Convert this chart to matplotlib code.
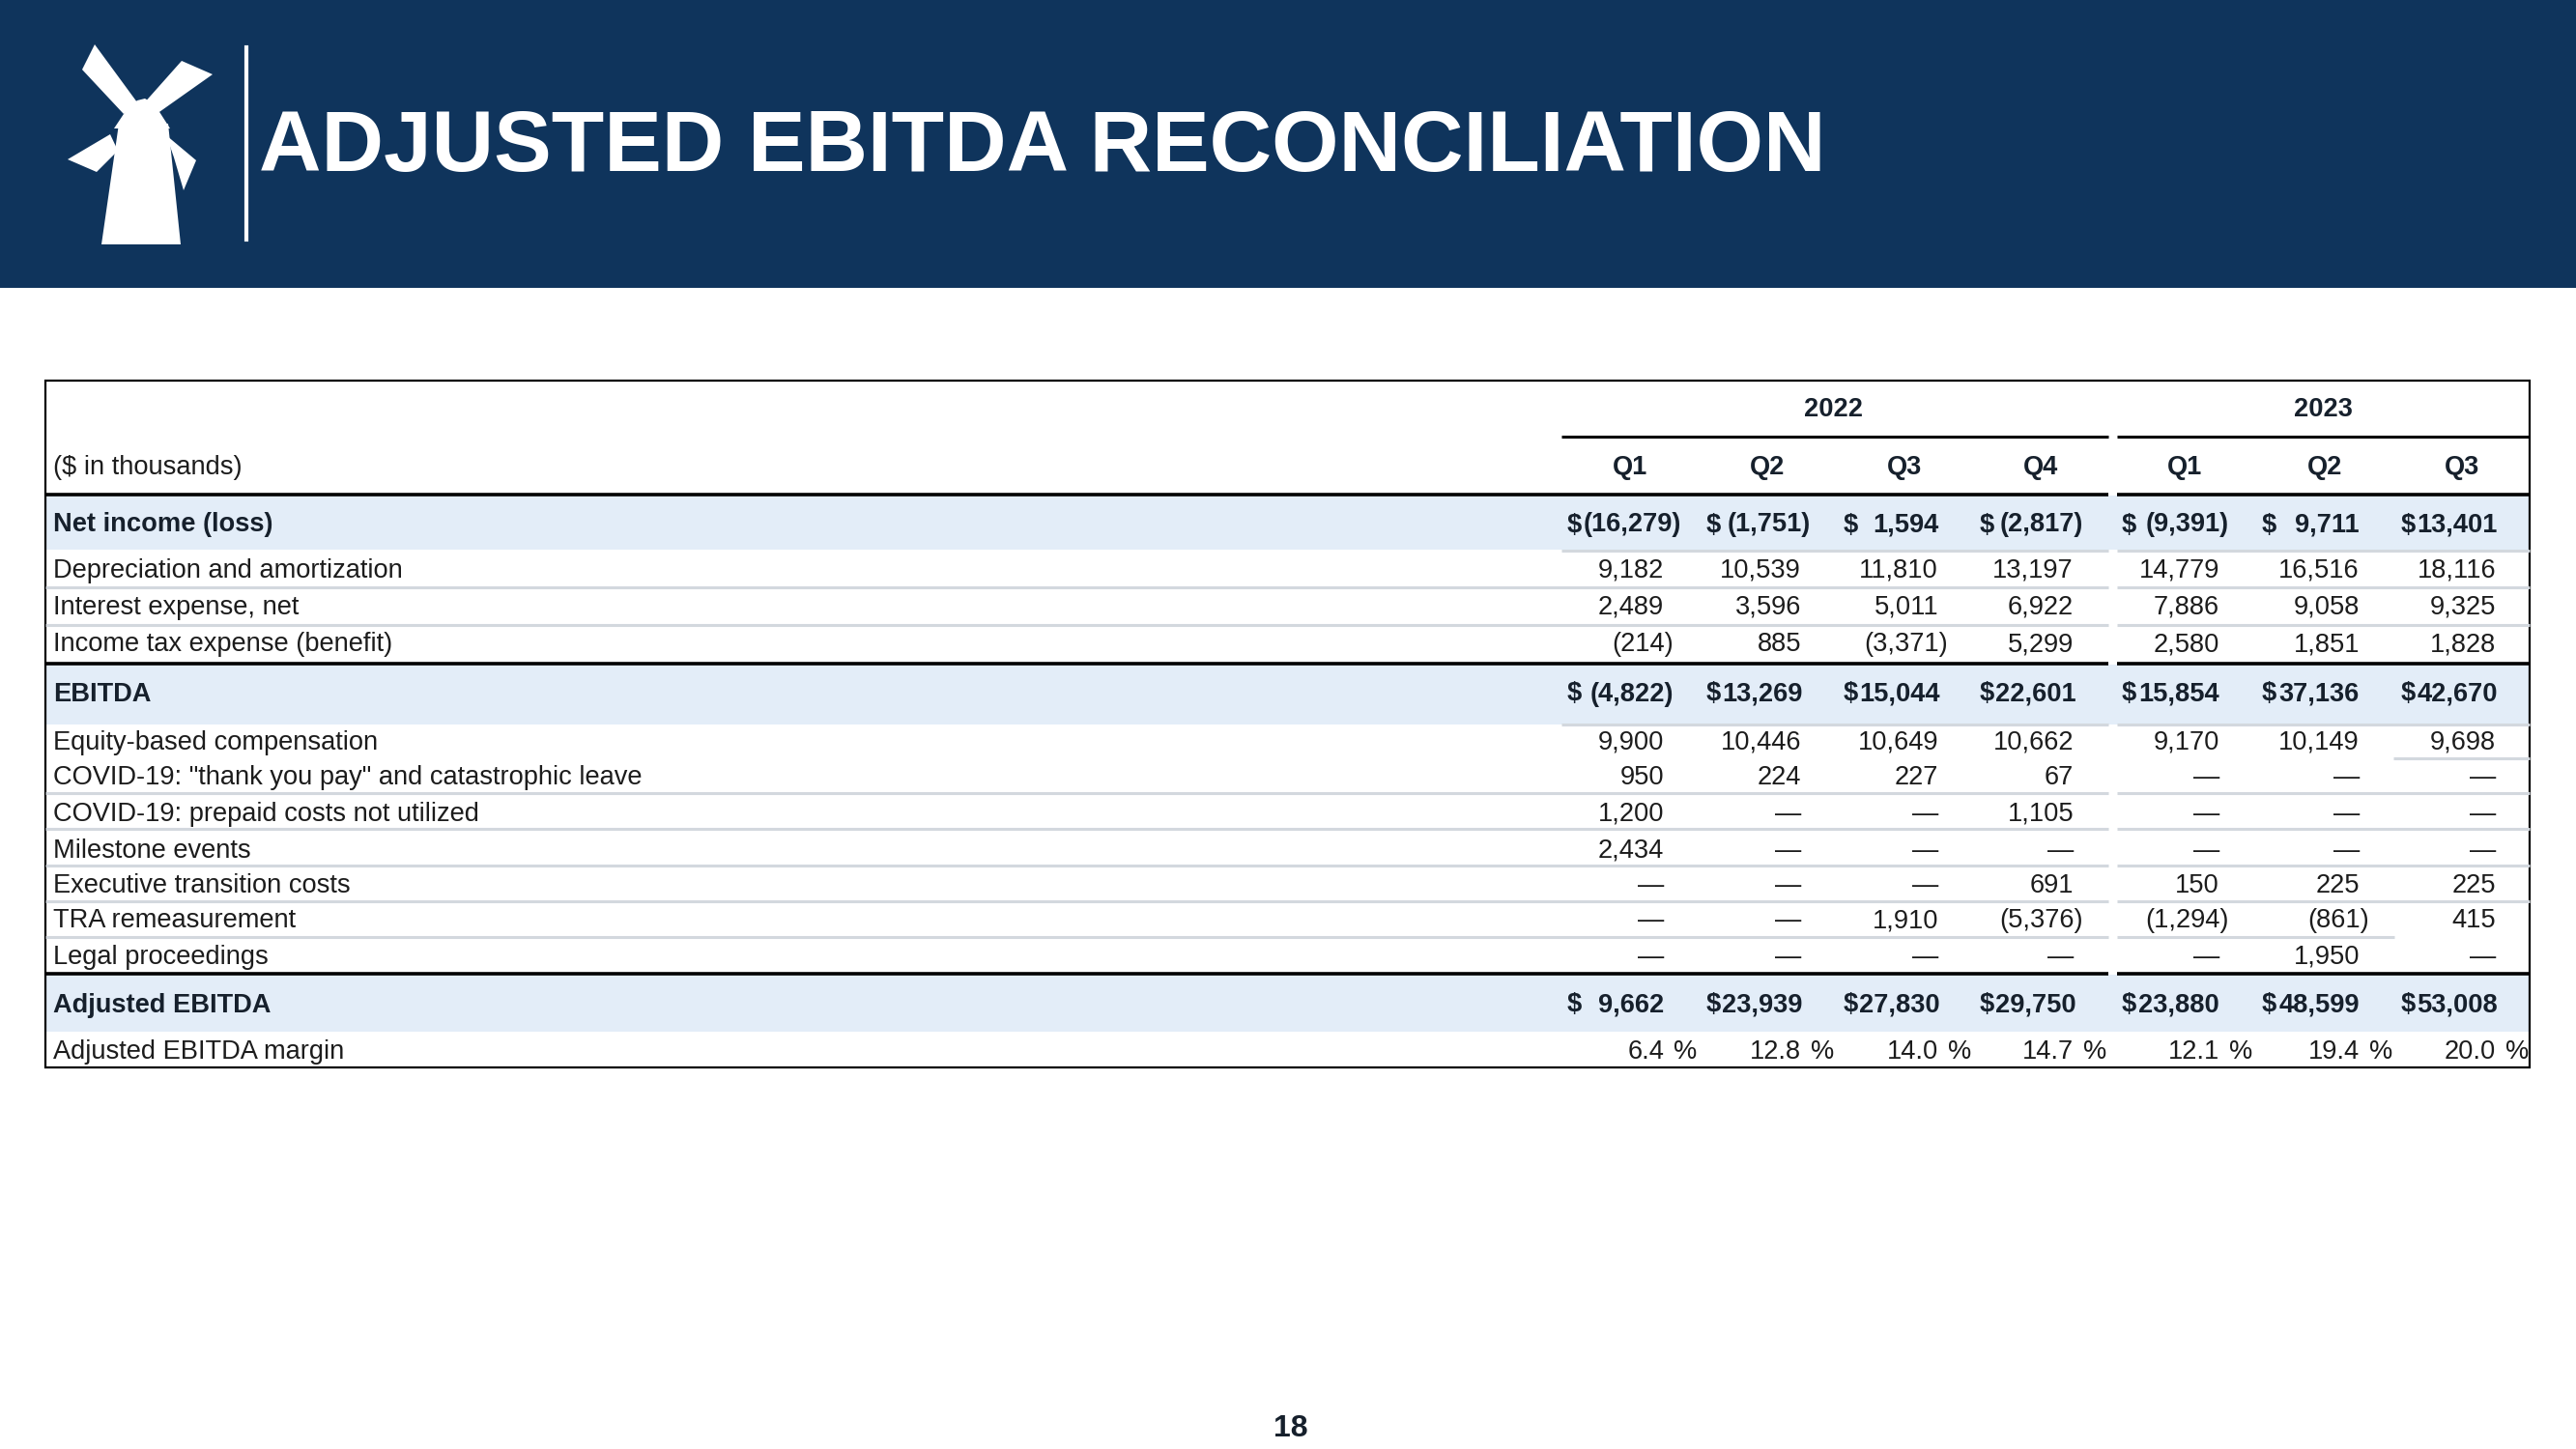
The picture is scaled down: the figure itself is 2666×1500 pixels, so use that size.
import matplotlib
matplotlib.use("Agg")
import matplotlib.pyplot as plt
from matplotlib.patches import Polygon, Rectangle

plt.rcParams['font.family'] = ['Liberation Sans', 'DejaVu Sans']

# ---- data ----
title = "ADJUSTED EBITDA RECONCILIATION"
years = ["2022", "2023"]
quarters = ["Q1", "Q2", "Q3", "Q4", "Q1", "Q2", "Q3"]
unit_label = "($ in thousands)"
page_no = "18"

net_income = [-16279, -1751, 1594, -2817, -9391, 9711, 13401]
depreciation = [9182, 10539, 11810, 13197, 14779, 16516, 18116]
interest = [2489, 3596, 5011, 6922, 7886, 9058, 9325]
income_tax = [-214, 885, -3371, 5299, 2580, 1851, 1828]
ebitda = [-4822, 13269, 15044, 22601, 15854, 37136, 42670]
equity_comp = [9900, 10446, 10649, 10662, 9170, 10149, 9698]
covid_pay = [950, 224, 227, 67, None, None, None]
covid_prepaid = [1200, None, None, 1105, None, None, None]
milestone = [2434, None, None, None, None, None, None]
exec_transition = [None, None, None, 691, 150, 225, 225]
tra = [None, None, 1910, -5376, -1294, -861, 415]
legal = [None, None, None, None, None, 1950, None]
adj_ebitda = [9662, 23939, 27830, 29750, 23880, 48599, 53008]
adj_margin = [6.4, 12.8, 14.0, 14.7, 12.1, 19.4, 20.0]

rows = [
    ("Net income (loss)", net_income, True),
    ("Depreciation and amortization", depreciation, False),
    ("Interest expense, net", interest, False),
    ("Income tax expense (benefit)", income_tax, False),
    ("EBITDA", ebitda, True),
    ("Equity-based compensation", equity_comp, False),
    ('COVID-19: "thank you pay" and catastrophic leave', covid_pay, False),
    ("COVID-19: prepaid costs not utilized", covid_prepaid, False),
    ("Milestone events", milestone, False),
    ("Executive transition costs", exec_transition, False),
    ("TRA remeasurement", tra, False),
    ("Legal proceedings", legal, False),
    ("Adjusted EBITDA", adj_ebitda, True),
]

# ---- layout (pixels) ----
W, H = 2666, 1500
navy = "#0f345c"
shade = "#e3edf8"
grid = "#d3d8de"
txt = "#1c1c1c"
btxt = "#16202c"
fs = 19.6

row_y = [541, 588, 626, 665, 716, 766, 803, 840, 878, 915, 951, 988, 1038]
margin_y = 1086
num_right = [1722, 1864, 2006, 2146, 2297, 2442, 2583]
dollar_x = [1622, 1766, 1908, 2049, 2196, 2341, 2485]
q_center = [1687, 1829, 1971, 2112, 2261, 2406, 2548]
year_center = [1898, 2404]
L, R, T, B = 47, 2618, 394, 1105
g1 = (1616, 2182)
g2 = (2191, 2618)

fig = plt.figure(figsize=(W / 100, H / 100), dpi=100)
ax = fig.add_axes([0, 0, 1, 1])
ax.set_xlim(0, W)
ax.set_ylim(H, 0)
ax.axis("off")
renderer = fig.canvas.get_renderer()

# header band
ax.add_patch(Rectangle((0, 0), W, 298, color=navy, lw=0))

# windmill logo
white = "white"
shapes = [
    [(85, 72), (98, 46), (142, 106), (128, 118)],
    [(188, 63), (220, 77), (162, 118), (148, 108)],
    [(70, 165), (114, 139), (122, 156), (100, 178)],
    [(172, 140), (203, 166), (190, 197), (180, 163)],
    [(118, 133), (132, 112), (142, 104), (150, 102), (160, 108), (176, 133)],
    [(123, 128), (174, 128), (187, 253), (105, 253)],
]
for s in shapes:
    ax.add_patch(Polygon(s, closed=True, color=white, lw=0))
ax.plot([255, 255], [49, 248], color=white, lw=3)

ax.text(268, 177, title, color="white", fontsize=64.3, fontweight="bold",
        ha="left", va="baseline")

# shaded rows
shade_spans = {0: (513, 569), 4: (688, 750), 12: (1009, 1068)}
for i, (top, bot) in shade_spans.items():
    ax.add_patch(Rectangle((L, top), R - L, bot - top, color=shade, lw=0))


def hline(y, x0, x1, color=grid, lw=2.2):
    ax.plot([x0, x1], [y, y], color=color, lw=lw, solid_capstyle="butt")


# year underline
hline(452, *g1, color="black", lw=2.2)
hline(452, *g2, color="black", lw=2.2)
# thick rules
for y in (512, 687, 1008):
    hline(y, L, g1[1], color="black", lw=2.6)
    hline(y, *g2, color="black", lw=2.6)
# thin rules
for y in (570, 750):
    hline(y, *g1)
    hline(y, *g2)
for y in (608, 647, 821, 858, 896, 933):
    hline(y, L, g1[1])
    hline(y, *g2)
hline(785, 2477, R)
hline(970, L, g1[1])
hline(970, g2[0], 2478)

# border
ax.add_patch(Rectangle((L, T), R - L, B - T, fill=False, ec="black", lw=1.6))

# header text
for yr, xc in zip(years, year_center):
    ax.text(xc, 431, yr, fontsize=fs, fontweight="bold", color=btxt,
            ha="center", va="baseline")
for q, xc in zip(quarters, q_center):
    ax.text(xc, 491, q, fontsize=fs, fontweight="bold", color=btxt,
            ha="center", va="baseline")
ax.text(55, 491, unit_label, fontsize=fs, color=txt, ha="left", va="baseline")


def fmt(v):
    if v is None:
        return "—"
    if v < 0:
        return "({:,})".format(-v)
    return "{:,}".format(v)


for (lab, vals, bold), yc in zip(rows, row_y):
    yb = yc + 9.5
    fw = "bold" if bold else "normal"
    col = btxt if bold else txt
    ax.text(55, yb, lab, fontsize=fs, fontweight=fw, color=col,
            ha="left", va="baseline")
    for j, v in enumerate(vals):
        s = fmt(v)
        xr = num_right[j] + (10 if (v is not None and v < 0) else 0)
        t = ax.text(xr, yb, s, fontsize=fs, fontweight=fw, color=col,
                    ha="right", va="baseline")
        if bold:
            d = ax.text(dollar_x[j], yb, "$", fontsize=fs, fontweight=fw,
                        color=col, ha="left", va="baseline")
            # keep the number clear of the dollar sign (accounting layout)
            d_right = d.get_window_extent(renderer).x1
            t_left = t.get_window_extent(renderer).x0
            if t_left < d_right + 1:
                t.set_x(xr + (d_right + 1 - t_left))

yb = margin_y + 9.5
ax.text(55, yb, "Adjusted EBITDA margin", fontsize=fs, color=txt,
        ha="left", va="baseline")
for j, m in enumerate(adj_margin):
    ax.text(num_right[j], yb, "{:.1f}".format(m), fontsize=fs, color=txt,
            ha="right", va="baseline")
    ax.text(num_right[j] + 10, yb, "%", fontsize=fs, color=txt,
            ha="left", va="baseline")

ax.text(1336, 1487, page_no, fontsize=23, fontweight="bold", color=btxt,
        ha="center", va="baseline")

fig.savefig("out.png", dpi=100)
